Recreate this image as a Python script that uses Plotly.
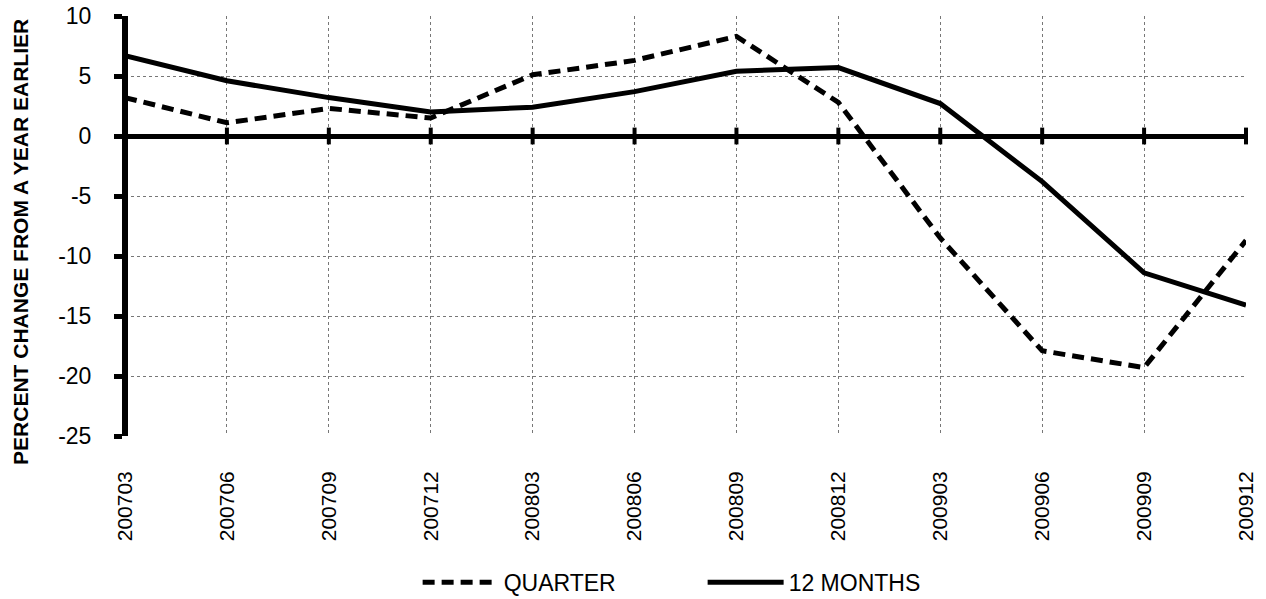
import plotly.graph_objects as go

periods = ["200703", "200706", "200709", "200712", "200803", "200806",
           "200809", "200812", "200903", "200906", "200909", "200912"]
quarter = [3.2, 1.1, 2.3, 1.5, 5.1, 6.3, 8.3, 2.8, -8.5, -17.9, -19.3, -8.7]
twelve_months = [6.7, 4.6, 3.2, 2.0, 2.4, 3.7, 5.4, 5.7, 2.7, -3.8, -11.4, -14.1]
y_ticks = [10, 5, 0, -5, -10, -15, -20, -25]
y_tick_labels = ["10", "5", "0", "-5", "-10", "-15", "-20", "-25"]
y_title = "PERCENT CHANGE FROM A YEAR EARLIER"

FONT = "Liberation Sans, Arial, sans-serif"

fig = go.Figure()

# small tick marks on the zero line at each category
fig.add_trace(go.Scatter(
    x=periods, y=[0] * len(periods), mode="markers", showlegend=False,
    hoverinfo="skip", cliponaxis=False,
    marker=dict(symbol="line-ns", size=12, line=dict(width=4, color="black"), color="black"),
))

fig.add_trace(go.Scatter(
    x=periods, y=quarter, mode="lines", name="QUARTER",
    line=dict(color="black", width=5, dash="12px,7px"),
))
fig.add_trace(go.Scatter(
    x=periods, y=twelve_months, mode="lines", name="12 MONTHS",
    line=dict(color="black", width=5),
))

fig.add_annotation(
    text="<b>" + y_title + "</b>", textangle=-90, showarrow=False,
    xref="paper", yref="paper", x=-0.0928, y=0.462,
    xanchor="center", yanchor="middle",
    font=dict(size=21, family=FONT, color="black"),
)

fig.update_layout(
    width=1266, height=599,
    margin=dict(l=125, r=20, t=16, b=163, autoexpand=False),
    paper_bgcolor="white", plot_bgcolor="white",
    font=dict(family=FONT, color="black"),
    showlegend=True,
    legend=dict(
        orientation="h", xref="container", yref="container",
        x=0.555, xanchor="center", y=0.028, yanchor="middle",
        font=dict(size=23, family=FONT), itemwidth=76,
        entrywidth=194, entrywidthmode="pixels",
    ),
    xaxis=dict(
        type="category", range=[0, len(periods) - 1],
        tickangle=-90, tickfont=dict(size=21, family=FONT),
        showgrid=True, gridcolor="#777777", griddash="dot", gridwidth=1,
        ticks="", ticklabelstandoff=30, showline=False, zeroline=False,
        automargin=False, fixedrange=True,
    ),
    yaxis=dict(
        range=[-25, 10], tickvals=y_ticks, ticktext=y_tick_labels,
        tickfont=dict(size=23, family=FONT),
        anchor="free", position=0,
        showgrid=True, gridcolor="#777777", griddash="dot", gridwidth=1,
        showline=True, linecolor="black", linewidth=6,
        ticks="outside", ticklen=8, tickwidth=5, tickcolor="black",
        ticklabelstandoff=18,
        zeroline=True, zerolinecolor="black", zerolinewidth=5,
        automargin=False, fixedrange=True,
    ),
)

fig.write_html("out.html", config={"displayModeBar": False},
               post_script="document.body.style.margin='0';document.body.style.padding='0';")
